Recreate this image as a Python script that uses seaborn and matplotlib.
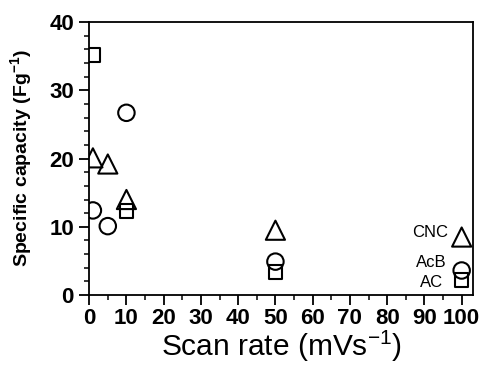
import matplotlib
matplotlib.use("Agg")
import matplotlib.pyplot as plt
import seaborn as sns
import pandas as pd
from matplotlib.ticker import MultipleLocator

sns.set_theme(style="white")
plt.rcParams['font.family'] = ['Liberation Sans', 'DejaVu Sans']
plt.rcParams['mathtext.fontset'] = 'custom'
plt.rcParams['mathtext.rm'] = 'Liberation Sans'
plt.rcParams['mathtext.bf'] = 'Liberation Sans:bold'

series = ["AC", "AcB", "CNC"]
ac_x = [1, 10, 50, 100]
ac_y = [35.2, 12.3, 3.4, 2.2]
acb_x = [1, 5, 10, 50, 100]
acb_y = [12.4, 10.1, 26.7, 4.9, 3.6]
cnc_x = [1, 5, 10, 50, 100]
cnc_y = [20.1, 19.2, 14.0, 9.5, 8.5]

xticks = list(range(0, 101, 10))
yticks = [0, 10, 20, 30, 40]

df = pd.concat([
    pd.DataFrame({"x": ac_x, "y": ac_y, "series": "AC"}),
    pd.DataFrame({"x": acb_x, "y": acb_y, "series": "AcB"}),
    pd.DataFrame({"x": cnc_x, "y": cnc_y, "series": "CNC"}),
])

markers = {"AC": "s", "AcB": "o", "CNC": "^"}
sizes = {"AC": 95, "AcB": 140, "CNC": 190}

fig = plt.figure(figsize=(4.82, 3.67), dpi=100)
ax = fig.add_axes([0.185, 0.196, 0.796, 0.744])

for name in series:
    sub = df[df["series"] == name]
    sns.scatterplot(data=sub, x="x", y="y", marker=markers[name], s=sizes[name],
                    facecolor="none", edgecolor="black", linewidth=1.5, ax=ax,
                    legend=False, zorder=3)

ax.set_xlim(0, 103)
ax.set_ylim(0, 40)
ax.set_xticks(xticks)
ax.set_yticks(yticks)
ax.xaxis.set_minor_locator(MultipleLocator(5))
ax.yaxis.set_minor_locator(MultipleLocator(2))
ax.tick_params(axis="both", which="major", direction="out", length=7, width=1.3,
               color="black", labelsize=16, bottom=True, left=True)
ax.tick_params(axis="x", which="major", pad=2)
ax.tick_params(axis="y", which="major", pad=4)
ax.tick_params(axis="both", which="minor", direction="out", length=3.6, width=1.1,
               color="black", bottom=True, left=True)
for sp in ax.spines.values():
    sp.set_color("black")
    sp.set_linewidth(1.3)

ax.set_xlabel("Scan rate (mVs$^{-1}$)", fontsize=21.5, labelpad=0, color="black")
ax.set_ylabel(r"Specific capacity (Fg$^{\mathbf{-1}}$)", fontsize=14, fontweight="bold",
              labelpad=10, color="black")

ann_fs = 12
ax.text(96.4, 9.1, "CNC", fontsize=ann_fs, ha="right", va="center", color="black")
ax.text(95.9, 4.7, "AcB", fontsize=ann_fs, ha="right", va="center", color="black")
ax.text(94.9, 1.9, "AC", fontsize=ann_fs, ha="right", va="center", color="black")

for lbl in ax.get_xticklabels() + ax.get_yticklabels():
    lbl.set_color("black")
    lbl.set_fontweight("bold")

fig.savefig("out.png", dpi=100)
